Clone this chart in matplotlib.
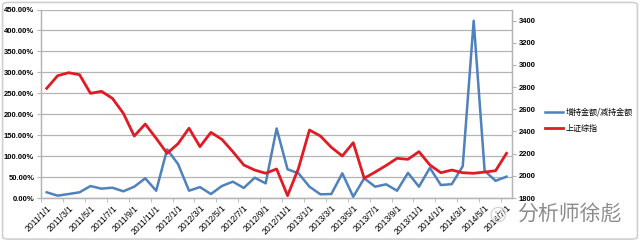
import numpy as np
import matplotlib
matplotlib.use("Agg")
import matplotlib.pyplot as plt
from matplotlib.patches import FancyBboxPatch

plt.rcParams['font.family'] = ['Liberation Sans', 'Noto Sans CJK SC', 'DejaVu Sans']

# monthly data, 2011/1 .. 2014/7
ratio = [13.6, 5.6, 9.5, 13.6, 28.6, 22.3, 24.6, 16, 27, 47, 17.4, 116,
         81, 17.4, 26, 9.5, 28.6, 39, 24, 48.5, 35, 166, 68.5, 59,
         27, 8.8, 9.5, 59, 3, 47, 27, 32.7, 17.4, 60, 27, 72,
         31, 33, 76, 423, 65, 41, 51]  # percent
index_sh = [2789, 2903, 2930, 2912, 2744, 2762, 2699, 2564, 2359, 2467, 2338, 2203,
            2290, 2429, 2263, 2392, 2329, 2218, 2098, 2052, 2023, 2062, 1821, 2068,
            2413, 2359, 2257, 2179, 2299, 1978, 2034, 2093, 2158, 2149, 2218, 2098,
            2028, 2052, 2028, 2023, 2034, 2046, 2203]

tick_labels = ['2011/1/1', '2011/3/1', '2011/5/1', '2011/7/1', '2011/9/1', '2011/11/1',
               '2012/1/1', '2012/3/1', '2012/5/1', '2012/7/1', '2012/9/1', '2012/11/1',
               '2013/1/1', '2013/3/1', '2013/5/1', '2013/7/1', '2013/9/1', '2013/11/1',
               '2014/1/1', '2014/3/1', '2014/5/1', '2014/7/1']

x = np.arange(len(ratio))
blue = '#4F81BD'
red = '#E01B24'
grid_c = '#B4B4B4'

fig = plt.figure(figsize=(6.4, 2.42), dpi=100)
fig.patches.append(FancyBboxPatch((0.004, 0.012), 0.992, 0.978, boxstyle='round,pad=0,rounding_size=0.01',
                                  transform=fig.transFigure, fill=False, ec='#D0D0D0', lw=1.2))

ax = fig.add_axes([0.0644, 0.1818, 0.7356, 0.7789])
ax2 = ax.twinx()

ax.plot(x, np.array(ratio) / 100, color=blue, lw=1.8, zorder=3, label='增持金额/减持金额')
ax2.plot(x, index_sh, color=red, lw=2.0, zorder=3, label='上证综指')

ax.set_xlim(-0.5, len(ratio) - 0.5)
ax.set_ylim(0, 4.5)
ax.set_yticks(np.arange(0, 4.51, 0.5))
ax.set_yticklabels(['%.2f%%' % (v * 100) for v in np.arange(0, 4.51, 0.5)])
ax2.set_ylim(1800, 3500)
ax2.set_yticks(np.arange(1800, 3401, 200))

ax.yaxis.grid(True, color=grid_c, lw=0.9)
ax.set_axisbelow(True)

ax.set_xticks(x[::2])
ax.set_xticklabels(tick_labels, rotation=45, ha='right', va='top', rotation_mode='anchor')
ax.set_xticks(np.arange(-0.5, len(ratio), 2), minor=True)
ax.tick_params(axis='x', which='major', length=0, pad=4, labelsize=6.2)
ax.tick_params(axis='x', which='minor', length=3, color=grid_c)
ax.tick_params(axis='y', length=3, color=grid_c, labelsize=5.5, pad=2)
ax2.tick_params(axis='y', length=3, color=grid_c, labelsize=5.5, pad=2)
for lab in ax.get_yticklabels() + ax2.get_yticklabels():
    lab.set_fontweight('bold')

for a in (ax, ax2):
    a.spines['top'].set_visible(False)
    for s in ('left', 'right', 'bottom'):
        a.spines[s].set_color(grid_c)
        a.spines[s].set_linewidth(0.9)

h1, l1 = ax.get_legend_handles_labels()
h2, l2 = ax2.get_legend_handles_labels()
fig.legend(h1 + h2, l1 + l2, loc='upper left', bbox_to_anchor=(0.84, 0.585), frameon=False,
           handlelength=2.2, handletextpad=0.4, labelspacing=0.9,
           prop={'family': ['Noto Sans CJK SC', 'DejaVu Sans'], 'size': 5.8})

# watermark
fig.text(0.778, 0.108, '☺', fontsize=13, color='#D0D0D0', ha='center', va='center',
         family=['DejaVu Sans'])
fig.text(0.808, 0.112, '分析师徐彪', fontsize=15, color='#8C8C8C', ha='left', va='center',
         family=['Noto Sans CJK SC', 'DejaVu Sans'])

fig.savefig('out.png', dpi=100)
